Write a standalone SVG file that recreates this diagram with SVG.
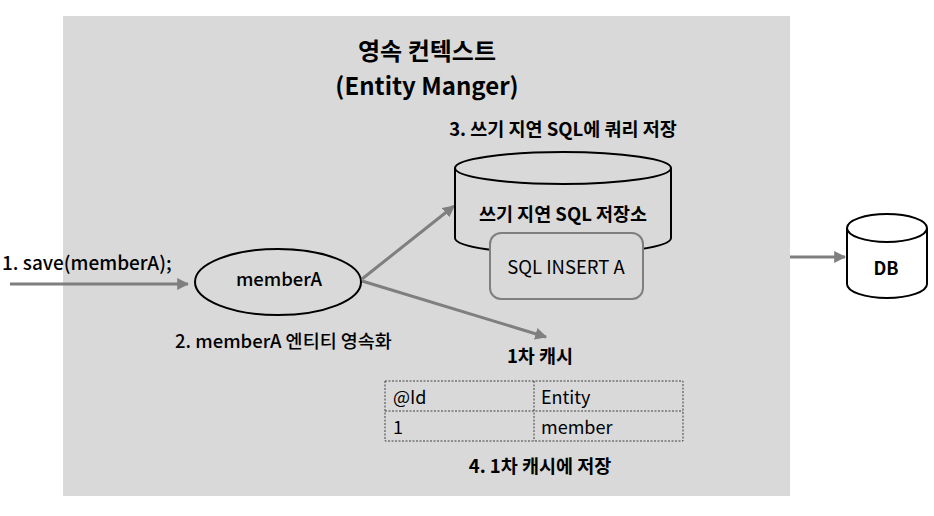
<svg xmlns="http://www.w3.org/2000/svg" width="934" height="516" viewBox="0 0 934 516">
<defs>
<style>
text{font-family:"Noto Sans CJK KR","Noto Sans",sans-serif;fill:#000}
.b{font-weight:bold}
.m{font-weight:500}
.c{text-anchor:middle}
.conn{stroke:#7f7f7f;stroke-width:3;fill:none;marker-end:url(#ah)}
.shape{stroke:#000;stroke-width:2;fill:#d9d9d9}
</style>
<marker id="ah" viewBox="0 0 10 10" refX="9" refY="5" markerWidth="4" markerHeight="4" orient="auto" markerUnits="strokeWidth">
<path d="M0,0 L10,5 L0,10 z" fill="#7f7f7f"/>
</marker>
</defs>
<rect width="934" height="516" fill="#fff"/>
<g id="context">
<rect x="63" y="16" width="727" height="480" fill="#d9d9d9"/>
<text class="b c" x="427" y="60" font-size="24">영속 컨텍스트</text>
<text class="c" x="427" y="95" font-size="24" font-weight="600">(Entity Manger)</text>
</g>
<g id="connectors">
<line class="conn" x1="10" y1="284" x2="188" y2="284"/>
<line class="conn" x1="362" y1="279" x2="454" y2="206"/>
<line class="conn" x1="362" y1="281" x2="546" y2="337"/>
<line class="conn" x1="790" y1="257" x2="845" y2="257"/>
</g>
<g id="save-label">
<text class="m" x="2" y="270" font-size="19">1. save(memberA);</text>
</g>
<g id="memberA">
<ellipse class="shape" cx="278" cy="282" rx="83" ry="33" stroke-width="3"/>
<text class="m c" x="279" y="286" font-size="18.5">memberA</text>
<text class="m" x="175" y="348" font-size="18.5">2. memberA 엔티티 영속화</text>
</g>
<g id="sql-store">
<text class="b c" x="563" y="136" font-size="18.5">3. 쓰기 지연 SQL에 쿼리 저장</text>
<path class="shape" d="M455,168 L455,238 A108,16 0 0 0 671,238 L671,168"/>
<ellipse class="shape" cx="563" cy="168" rx="108" ry="16"/>
<text class="b c" x="563" y="221" font-size="18.5">쓰기 지연 SQL 저장소</text>
</g>
<g id="sql-insert">
<rect x="490" y="233" width="153" height="66" rx="11" fill="#d9d9d9" stroke="#7f7f7f" stroke-width="2"/>
<text class="c" x="566" y="274" font-size="18.5">SQL INSERT A</text>
</g>
<g id="cache">
<text class="b c" x="540" y="363" font-size="18.5">1차 캐시</text>
<g fill="none" stroke="#404040" stroke-width="1" stroke-dasharray="2,1.5">
<rect x="385" y="381" width="298" height="60"/>
<line x1="385" y1="411" x2="683" y2="411"/>
<line x1="534" y1="381" x2="534" y2="441"/>
</g>
<text x="393" y="404" font-size="18">@Id</text>
<text x="541" y="404" font-size="18">Entity</text>
<text x="393" y="434" font-size="18">1</text>
<text x="541" y="434" font-size="18">member</text>
<text class="b c" x="540" y="473" font-size="18.5">4. 1차 캐시에 저장</text>
</g>
<g id="db">
<path d="M847,228 L847,284 A40,14 0 0 0 927,284 L927,228" fill="#fff" stroke="#000" stroke-width="2"/>
<ellipse cx="887" cy="228" rx="40" ry="14" fill="#fff" stroke="#000" stroke-width="2"/>
<text class="b c" x="886" y="275" font-size="18">DB</text>
</g>
</svg>
